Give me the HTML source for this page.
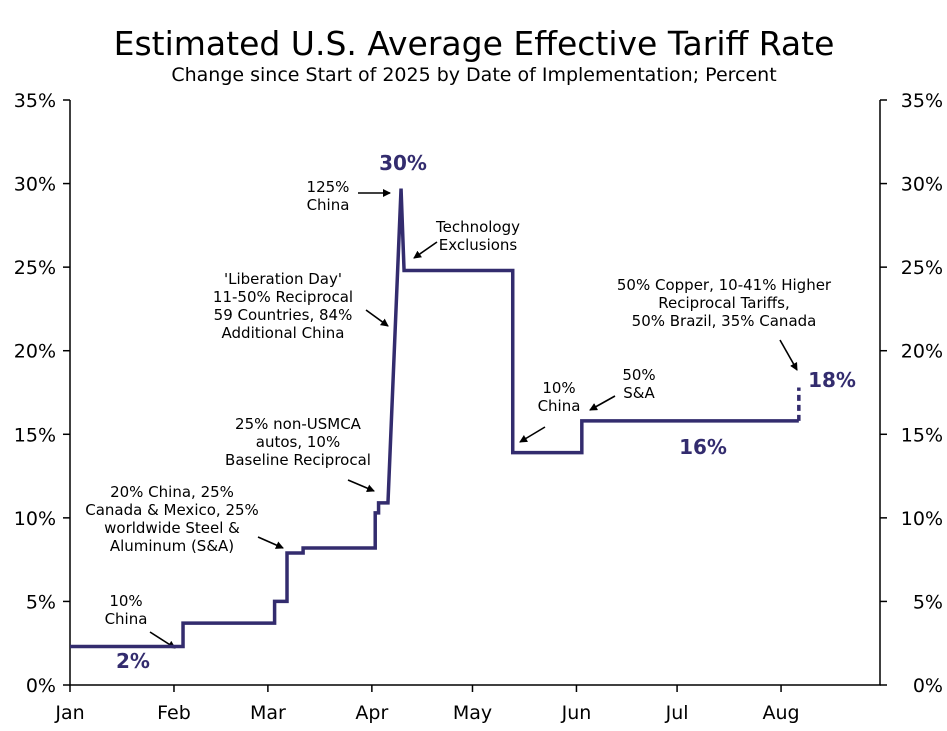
<!DOCTYPE html>
<html><head><meta charset="utf-8"><style>
body{margin:0;background:#fff;}
svg text{font-family:"DejaVu Sans","Liberation Sans",sans-serif;}
</style></head><body>
<svg id="chart" width="947" height="726" viewBox="0 0 947 726" xmlns="http://www.w3.org/2000/svg">
<text x="474" y="55" text-anchor="middle" font-size="33" fill="#000">Estimated U.S. Average Effective Tariff Rate</text>
<text x="474" y="81" text-anchor="middle" font-size="19" fill="#000">Change since Start of 2025 by Date of Implementation; Percent</text>
<g id="axes"></g>
<g id="annos" font-size="15" fill="#000" text-anchor="middle">
<text x="126" y="606"><tspan x="126">10%</tspan><tspan x="126" dy="18">China</tspan></text>
<text x="172" y="497"><tspan x="172">20% China, 25%</tspan><tspan x="172" dy="18">Canada &amp; Mexico, 25%</tspan><tspan x="172" dy="18">worldwide Steel &amp;</tspan><tspan x="172" dy="18">Aluminum (S&amp;A)</tspan></text>
<text x="298" y="429"><tspan x="298">25% non-USMCA</tspan><tspan x="298" dy="18">autos, 10%</tspan><tspan x="298" dy="18">Baseline Reciprocal</tspan></text>
<text x="283" y="284"><tspan x="283">'Liberation Day'</tspan><tspan x="283" dy="18">11-50% Reciprocal</tspan><tspan x="283" dy="18">59 Countries, 84%</tspan><tspan x="283" dy="18">Additional China</tspan></text>
<text x="328" y="192"><tspan x="328">125%</tspan><tspan x="328" dy="18">China</tspan></text>
<text x="478" y="232"><tspan x="478">Technology</tspan><tspan x="478" dy="18">Exclusions</tspan></text>
<text x="559" y="393"><tspan x="559">10%</tspan><tspan x="559" dy="18">China</tspan></text>
<text x="639" y="380"><tspan x="639">50%</tspan><tspan x="639" dy="18">S&amp;A</tspan></text>
<text x="724" y="290"><tspan x="724">50% Copper, 10-41% Higher</tspan><tspan x="724" dy="18">Reciprocal Tariffs,</tspan><tspan x="724" dy="18">50% Brazil, 35% Canada</tspan></text>
</g>
<g id="arrows" stroke="#000" stroke-width="1.6" fill="none" marker-end="url(#ah)">
<line x1="150" y1="632" x2="175" y2="648"/>
<line x1="258" y1="537" x2="283" y2="548"/>
<line x1="348" y1="480" x2="374" y2="491"/>
<line x1="366" y1="310" x2="388" y2="326"/>
<line x1="358" y1="193" x2="390" y2="193"/>
<line x1="437" y1="242" x2="414" y2="258"/>
<line x1="545" y1="427" x2="520" y2="442"/>
<line x1="615" y1="396" x2="590" y2="410"/>
<line x1="780" y1="340" x2="797" y2="370"/>
</g>
<defs><marker id="ah" markerWidth="8" markerHeight="8" refX="7" refY="4" orient="auto" markerUnits="userSpaceOnUse"><path d="M0,0 L8,4 L0,8 z" fill="#000"/></marker></defs>
<g id="series"></g>
<g font-size="20" font-weight="bold" fill="#332c6e" text-anchor="middle">
<text x="133" y="668">2%</text>
<text x="403" y="170">30%</text>
<text x="703" y="454">16%</text>
<text x="832" y="387">18%</text>
</g>
</svg>
<script>
const monthLabels=["Jan","Feb","Mar","Apr","May","Jun","Jul","Aug"];
const monthDays=[0,31,59,90,120,151,181,212];
const yTicks=[0,5,10,15,20,25,30,35];
const stepDays=[0,33.7,61,64.7,69.5,91,92,94.8,98.7,99.6,132,152.6,216.5];
const stepValues=[2.3,3.7,5.0,7.9,8.2,10.3,10.9,10.9,29.7,24.8,13.9,15.8,15.8];
const finalValue=17.8;
const finalDay=217.3;

const svgNS="http://www.w3.org/2000/svg";
const X0=70,X1=880,Y0=685,Y1=100,DMAX=241.5;
const xs=d=>X0+(X1-X0)*d/DMAX;
const ys=v=>Y0-(Y0-Y1)*v/35;
const ax=document.getElementById('axes');
function mk(tag,attrs,parent){const e=document.createElementNS(svgNS,tag);for(const k in attrs)e.setAttribute(k,attrs[k]);parent.appendChild(e);return e;}
const frame=mk('path',{d:`M${X0},${Y1} V${Y0} H${X1} V${Y1}`,stroke:'#000','stroke-width':1.5,fill:'none'},ax);


yTicks.forEach(t=>{
  const y=ys(t);
  const l=mk('line',{x1:X0-7,x2:X0,y1:y,y2:y,stroke:'#000','stroke-width':1.5},ax);
  
  
  const r=mk('line',{x1:X1,x2:X1+7,y1:y,y2:y,stroke:'#000','stroke-width':1.5},ax);
  
  
  const tl=mk('text',{x:56,y:y+7,'text-anchor':'end','font-size':19},ax);tl.textContent=t+'%';
  
  
  const tr=mk('text',{x:943,y:y+7,'text-anchor':'end','font-size':19},ax);tr.textContent=t+'%';
  
  
});
monthDays.forEach((d,i)=>{
  const x=xs(d);
  const l=mk('line',{x1:x,x2:x,y1:Y0,y2:Y0+7,stroke:'#000','stroke-width':1.5},ax);
  
  
  const t=mk('text',{x:x,y:719,'text-anchor':'middle','font-size':19},ax);t.textContent=monthLabels[i];
  
  
});
const sg=document.getElementById('series');
let d=`M${xs(0)},${ys(stepValues[0])}`;
for(let i=1;i<stepDays.length;i++){
  const x=xs(stepDays[i]);
  if(i===8||i===9){d+=` L${x},${ys(stepValues[i])}`;}
  else{d+=` H${x} V${ys(stepValues[i])}`;}
}
d+=` H${xs(finalDay)}`;
const line=mk('path',{d:d,stroke:'#332c6e','stroke-width':3.5,fill:'none','stroke-linejoin':'miter'},sg);


const dash=mk('path',{d:`M${xs(finalDay)},${ys(stepValues[stepValues.length-1])} V${ys(finalValue)}`,stroke:'#332c6e','stroke-width':3.5,fill:'none','stroke-dasharray':'6,4'},sg);


</script>
</body></html>
